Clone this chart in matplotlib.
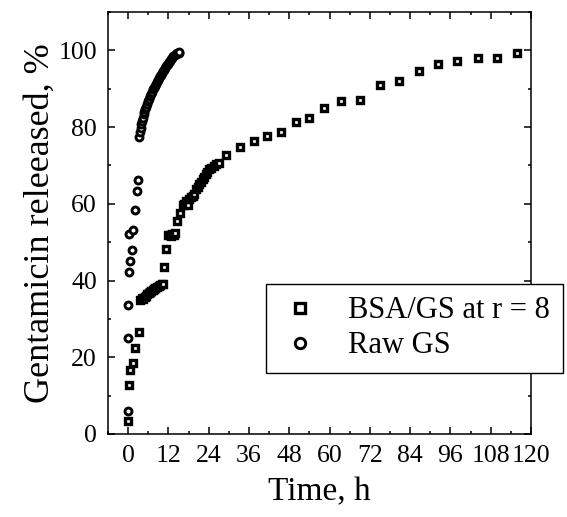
import numpy as np
import matplotlib
matplotlib.use("Agg")
import matplotlib.pyplot as plt
from matplotlib.ticker import MultipleLocator

plt.rcParams["font.family"] = ["Liberation Serif", "DejaVu Serif"]

# BSA/GS at r = 8 (squares)
bsa_t = [0, 0.2, 0.6, 1.4, 2.1, 3.2,
         3.5, 4.0, 4.4, 4.9, 5.3, 5.7, 6.1, 6.5, 6.9, 7.3, 7.7, 8.1, 8.6, 9.1, 9.6, 10.1, 10.5,
         10.6, 11.3, 12.0, 12.4, 12.8, 13.2, 13.6, 14.0,
         14.5, 15.5, 16.2, 16.7, 17.2, 17.7, 18.2, 18.7, 19.2, 19.7, 20.2, 20.7, 21.2, 21.7,
         22.2, 22.7, 23.1, 23.6, 24.1, 24.8, 25.6, 26.3, 27.1,
         29.1, 33.2, 37.5, 41.5, 45.6, 49.9, 53.9, 58.3, 63.4, 69.2, 74.9, 80.7, 86.6,
         92.4, 98.1, 104.1, 109.9, 115.8]
bsa_pct = [3.4, 12.7, 16.6, 18.4, 22.3, 26.6,
           35.0, 35.4, 35.2, 35.8, 36.1, 36.4, 36.8, 37.0, 37.3, 37.5, 37.8, 38.0, 38.2, 38.5, 38.8, 39.0, 39.2,
           43.5, 48.1, 51.8, 52.0, 51.6, 52.2, 51.9, 52.3,
           55.6, 57.7, 59.6, 60.0, 60.8, 59.8, 61.2, 61.7, 62.0, 62.6, 63.8, 64.5, 65.1, 65.8,
           66.4, 67.0, 67.7, 68.3, 69.0, 69.4, 69.9, 70.3, 70.7,
           72.8, 74.8, 76.4, 77.7, 78.6, 81.2, 82.5, 85.1, 86.8, 87.0, 91.1, 92.1, 94.5,
           96.5, 97.2, 98.1, 98.1, 99.3]

# Raw GS (circles)
raw_t = [0, 0, 0, 0.4, 0.6, 1.1, 0.4, 1.4, 2.1, 2.6, 3.0,
         3.1, 3.4, 3.7, 3.9, 4.2, 4.4, 4.6, 4.8, 5.1, 5.3, 5.6, 5.9, 6.1, 6.4, 6.7,
         7.0, 7.3, 7.6, 7.9, 8.2, 8.5, 8.8, 9.1, 9.4, 9.7, 10.0, 10.3, 10.6, 10.9, 11.2,
         11.5, 11.8, 12.1, 12.4, 12.8, 13.1, 13.5, 13.9, 14.3, 14.7, 15.0, 15.2]
raw_pct = [6.0, 25.0, 33.5, 42.3, 45.2, 48.0, 52.1, 53.2, 58.3, 63.4, 66.2,
           77.4, 78.6, 79.8, 80.7, 81.6, 82.5, 83.3, 84.0, 84.6, 85.3, 86.0, 86.8, 87.4, 88.0, 88.6,
           89.2, 89.8, 90.3, 90.8, 91.3, 91.7, 92.2, 92.7, 93.2, 93.6, 94.1, 94.6, 95.0, 95.4, 95.8,
           96.2, 96.5, 96.9, 97.3, 97.7, 98.1, 98.5, 98.8, 99.1, 99.3, 99.4, 99.5]

fig = plt.figure(figsize=(5.67, 5.17), dpi=100)
ax = fig.add_axes([108/567, 1-434/517, (531-108)/567, (434-12)/517])

ax.plot(bsa_t, bsa_pct, linestyle="none", marker="s", markersize=4.8,
        markerfacecolor="white", markeredgecolor="black", markeredgewidth=2.4,
        label="BSA/GS at r = 8")
ax.plot(raw_t, raw_pct, linestyle="none", marker="o", markersize=5.0,
        markerfacecolor="white", markeredgecolor="black", markeredgewidth=2.1,
        label="Raw GS")

ax.set_xlim(-6, 120)
ax.set_ylim(0, 110)
ax.xaxis.set_major_locator(MultipleLocator(12))
ax.xaxis.set_minor_locator(MultipleLocator(6))
ax.yaxis.set_major_locator(MultipleLocator(20))
ax.yaxis.set_minor_locator(MultipleLocator(10))
ax.tick_params(which="both", direction="in", top=True, right=True, width=1.1)
ax.tick_params(which="major", length=5, labelsize=18.5, pad=8)
ax.tick_params(which="minor", length=2.5)
for s in ax.spines.values():
    s.set_linewidth(1.1)

ax.set_xlabel("Time, h", fontsize=24, labelpad=7)
ax.set_ylabel("Gentamicin releeased, %", fontsize=26, labelpad=1)

leg = ax.legend(loc="upper left", bbox_to_anchor=(266/567, 1-284/517),
                bbox_transform=fig.transFigure, borderaxespad=0,
                fontsize=22, frameon=True, fancybox=False, framealpha=1,
                edgecolor="black", handlelength=1.4, handletextpad=0.9,
                borderpad=0.4, labelspacing=0.2, markerscale=1.5)
leg.get_frame().set_linewidth(1.0)

fig.savefig("out.png", dpi=100)
